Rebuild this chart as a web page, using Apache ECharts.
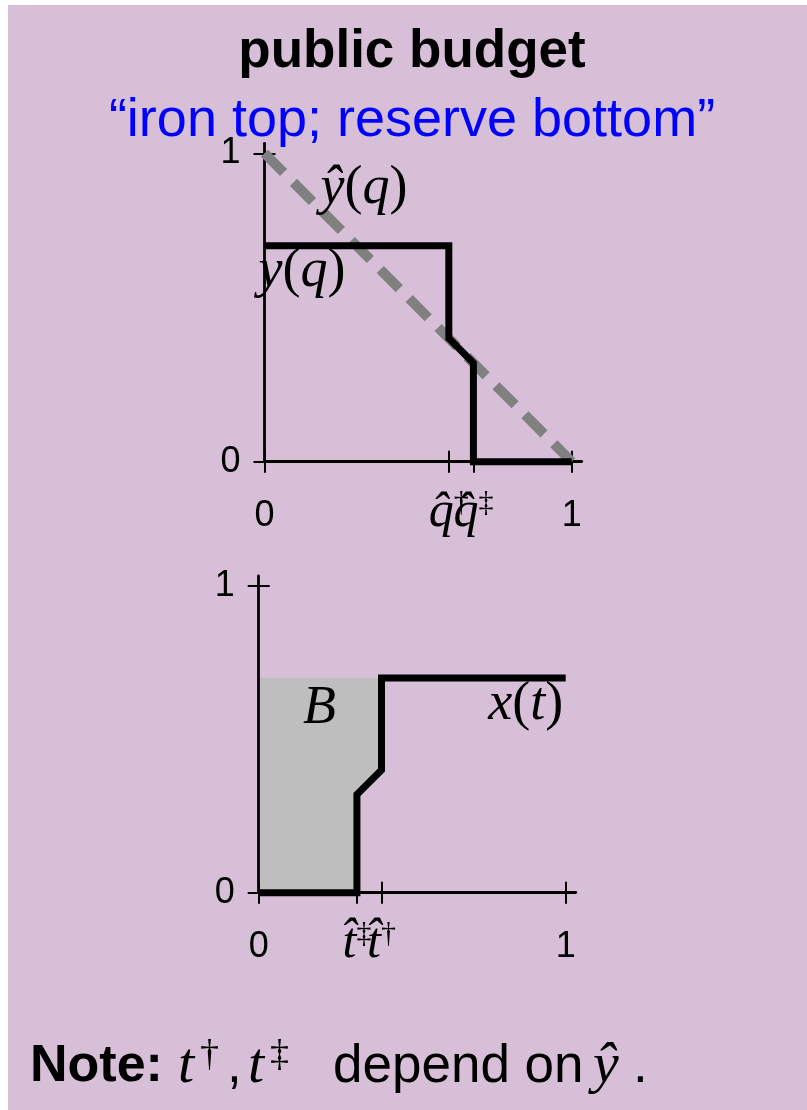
<!DOCTYPE html>
<html>
<head>
<meta charset="utf-8">
<script src="https://cdn.jsdelivr.net/npm/echarts@6/dist/echarts.min.js"></script>
<style>
  html, body { margin: 0; padding: 0; background: #ffffff; }
  #wrap { position: relative; width: 807px; height: 1110px; }
  #panel { position: absolute; left: 8px; top: 5px; right: 0; bottom: 0; background: #d8bfd8; }
  #chart { position: absolute; left: 0; top: 0; width: 807px; height: 1110px; }
</style>
</head>
<body>
<div id="wrap"><div id="panel"></div><div id="chart"></div></div>
<script>
// ---------- data ----------
// upper panel: allocation y(q) against the benchmark ŷ(q)
const Q_STEPS   = [0, 0.6, 0.6, 0.68, 0.68, 1];
const Y_STEPS   = [0.7, 0.7, 0.4, 0.32, 0, 0];
const Q_DIAG    = [0, 1];
const YHAT_DIAG = [1, 0];
// lower panel: x(t)
const T_STEPS   = [0, 0.32, 0.32, 0.4, 0.4, 1];
const X_STEPS   = [0, 0, 0.32, 0.4, 0.7, 0.7];

// axis ticks and their labels ("base|superscript" for math labels)
const TOP_X_TICKS  = [0, 0.6, 0.68, 1];
const TOP_X_LABELS = ['0', 'q\u0302|\u2020', 'q\u0302|\u2021', '1'];
const BOT_X_TICKS  = [0, 0.32, 0.4, 1];
const BOT_X_LABELS = ['0', 't\u0302|\u2021', 't\u0302|\u2020', '1'];
const Y_TICKS      = [0, 1];
const Y_LABELS     = ['0', '1'];

// curve names written next to the curves
const TOP_NOTE_TEXT = ['\u0177(q)', 'y(q)'];
const BOT_NOTE_TEXT = ['B', 'x(t)'];

// ---------- layout ----------
const TOP_NOTE_AT = [[0.324, 0.886], [0.122, 0.617]];
const BOT_NOTE_AT = [[0.198, 0.599], [0.870, 0.611]];

const SANS  = '"Liberation Sans", Arial, sans-serif';
const SERIF = '"Liberation Serif", "Times New Roman", serif';
const INK = '#000000';

function zip(a, b) { return a.map((v, i) => [v, b[i]]); }

function tickLabel(ticks, labels) {
  return function (v) {
    let best = 0;
    for (let i = 1; i < ticks.length; i++) {
      if (Math.abs(ticks[i] - v) < Math.abs(ticks[best] - v)) best = i;
    }
    const s = labels[best];
    if (s.indexOf('|') >= 0) {
      const p = s.split('|');
      return '{m|' + p[0] + '}{s|' + p[1] + '}';
    }
    return '{n|' + s + '}';
  };
}

function mathRich(s) {
  let out = '';
  for (const ch of s) {
    out += (ch === '(' || ch === ')') ? '{p|' + ch + '}' : '{i|' + ch + '}';
  }
  return out;
}

const tickRich = {
  n: { fontFamily: SANS, fontSize: 36, color: INK, lineHeight: 56 },
  m: { fontFamily: SERIF, fontStyle: 'italic', fontSize: 50, color: INK, lineHeight: 50 },
  s: { fontFamily: SERIF, fontSize: 30, color: INK, lineHeight: 8, verticalAlign: 'top' }
};

const tickLine = { color: INK, width: 2 };

function xMain(gi, max, ticks, labels) {
  return {
    type: 'value', gridIndex: gi, min: 0, max: max, position: 'bottom', z: 2,
    axisLine: { show: true, onZero: false, lineStyle: { color: INK, width: 2.8 } },
    axisTick: { show: true, inside: false, length: 11, customValues: ticks, lineStyle: tickLine },
    axisLabel: { show: true, customValues: ticks, margin: 26, formatter: tickLabel(ticks, labels), rich: tickRich },
    splitLine: { show: false }
  };
}
function xInner(gi, max, ticks) {
  return {
    type: 'value', gridIndex: gi, min: 0, max: max, position: 'bottom', z: 2,
    axisLine: { show: false, onZero: false },
    axisTick: { show: true, inside: true, length: 11, customValues: ticks, lineStyle: tickLine },
    axisLabel: { show: false }, splitLine: { show: false }
  };
}
function yMain(gi, max) {
  return {
    type: 'value', gridIndex: gi, min: 0, max: max, position: 'left', z: 2,
    axisLine: { show: true, onZero: false, lineStyle: { color: INK, width: 2.8 } },
    axisTick: { show: true, inside: false, length: 11, customValues: Y_TICKS, lineStyle: tickLine },
    axisLabel: { show: true, customValues: Y_TICKS, margin: 24, formatter: tickLabel(Y_TICKS, Y_LABELS), rich: { n: { fontFamily: SANS, fontSize: 36, color: INK } } },
    splitLine: { show: false }
  };
}
function yInner(gi, max) {
  return {
    type: 'value', gridIndex: gi, min: 0, max: max, position: 'left', z: 2,
    axisLine: { show: false, onZero: false },
    axisTick: { show: true, inside: true, length: 11, customValues: Y_TICKS, lineStyle: tickLine },
    axisLabel: { show: false }, splitLine: { show: false }
  };
}

const noteRich = {
  i: { fontFamily: SERIF, fontStyle: 'italic', fontSize: 54, color: INK },
  p: { fontFamily: SERIF, fontSize: 54, color: INK }
};

function noteSeries(xi, yi, texts, at) {
  return {
    type: 'scatter', xAxisIndex: xi, yAxisIndex: yi, symbolSize: 0, silent: true, z: 5,
    itemStyle: { color: INK, opacity: 1 },
    data: texts.map((t, k) => ({ value: at[k], label: { formatter: mathRich(t) } })),
    label: { show: true, position: 'inside', color: INK, opacity: 1, textBorderWidth: 0, rich: noteRich }
  };
}

// shaded budget region B: left of x(t) up to the top level
const fillPts = [];
for (let i = 0; i < T_STEPS.length; i++) {
  if (T_STEPS[i] <= BOT_X_TICKS[2]) fillPts.push([T_STEPS[i], X_STEPS[i]]);
}
fillPts.push([0, X_STEPS[X_STEPS.length - 1]]);

// pixel spans of the two panels (unit square plus a short overhang of the axes)
const TOP = { left: 264.5, top: 143.3, w: 307.2, h: 308.4 };
const BOT = { left: 258.7, top: 576.0, w: 307.0, h: 306.7 };
const OVER = 10;

const chart = echarts.init(document.getElementById('chart'), null, { renderer: 'canvas' });

const noteStyle = {
  b: { fontFamily: SANS, fontWeight: 'bold', fontSize: 52, fill: INK, lineHeight: 60, width: 148 },
  r: { fontFamily: SANS, fontSize: 53, fill: INK, lineHeight: 60 },
  c: { fontFamily: SANS, fontSize: 53, fill: INK, lineHeight: 60, width: 21 },
  i: { fontFamily: SERIF, fontStyle: 'italic', fontSize: 58, fill: INK, lineHeight: 60, width: 22 },
  h: { fontFamily: SERIF, fontStyle: 'italic', fontSize: 58, fill: INK, lineHeight: 60, width: 40, padding: [0, 0, 0, 3] },
  s1: { fontFamily: SERIF, fontSize: 38, fill: INK, lineHeight: 6, verticalAlign: 'top', width: 27 },
  s2: { fontFamily: SERIF, fontSize: 38, fill: INK, lineHeight: 6, verticalAlign: 'top', width: 63 },
  w: { fontFamily: SANS, fontSize: 53, fill: INK, lineHeight: 60, width: 257 }
};

chart.setOption({
  backgroundColor: 'transparent',
  animation: false,
  grid: [
    { left: TOP.left, top: TOP.top, width: TOP.w + OVER, height: TOP.h + OVER, containLabel: false },
    { left: BOT.left, top: BOT.top, width: BOT.w + OVER, height: BOT.h + OVER, containLabel: false }
  ],
  xAxis: [
    xMain(0, 1 + OVER / TOP.w, TOP_X_TICKS, TOP_X_LABELS),
    xInner(0, 1 + OVER / TOP.w, TOP_X_TICKS),
    xMain(1, 1 + OVER / BOT.w, BOT_X_TICKS, BOT_X_LABELS),
    xInner(1, 1 + OVER / BOT.w, BOT_X_TICKS)
  ],
  yAxis: [
    yMain(0, 1 + OVER / TOP.h),
    yInner(0, 1 + OVER / TOP.h),
    yMain(1, 1 + OVER / BOT.h),
    yInner(1, 1 + OVER / BOT.h)
  ],
  graphic: [
    { type: 'text', z: 10, style: { text: 'public budget', x: 412, y: 52, align: 'center', verticalAlign: 'middle',
        fontFamily: SANS, fontWeight: 'bold', fontSize: 53, fill: INK } },
    { type: 'text', z: 10, style: { text: '\u201Ciron top; reserve bottom\u201D', x: 412, y: 121, align: 'center', verticalAlign: 'middle',
        fontFamily: SANS, fontSize: 54, fill: '#0000ff' } },
    { type: 'text', z: 10, style: {
        text: '{b|Note:}{i|t}{s1|\u2020}{c|,}{i|t}{s2|\u2021}{w|depend on}{h|\u0177}{r|.}',
        x: 30, y: 1067, align: 'left', verticalAlign: 'middle',
        rich: noteStyle, fontFamily: SANS, fontSize: 52, fill: INK } }
  ],
  series: [
    {
      type: 'line', xAxisIndex: 0, yAxisIndex: 0, data: zip(Q_DIAG, YHAT_DIAG),
      symbol: 'none', clip: false, z: 3, silent: true,
      lineStyle: { color: '#808080', width: 10, type: [27, 14], cap: 'butt' }
    },
    {
      type: 'line', xAxisIndex: 0, yAxisIndex: 0, data: zip(Q_STEPS, Y_STEPS),
      symbol: 'none', clip: false, z: 4, silent: true,
      lineStyle: { color: INK, width: 7, join: 'miter', cap: 'butt' }
    },
    {
      type: 'custom', xAxisIndex: 2, yAxisIndex: 2, data: [[0, 0]], z: 1, silent: true, clip: false,
      renderItem: function (params, api) {
        return { type: 'polygon', shape: { points: fillPts.map(p => api.coord(p)) }, style: { fill: '#bebebe' } };
      }
    },
    {
      type: 'line', xAxisIndex: 2, yAxisIndex: 2, data: zip(T_STEPS, X_STEPS),
      symbol: 'none', clip: false, z: 4, silent: true,
      lineStyle: { color: INK, width: 7, join: 'miter', cap: 'butt' }
    },
    noteSeries(0, 0, TOP_NOTE_TEXT, TOP_NOTE_AT),
    noteSeries(2, 2, BOT_NOTE_TEXT, BOT_NOTE_AT)
  ]
});
</script>
</body>
</html>
